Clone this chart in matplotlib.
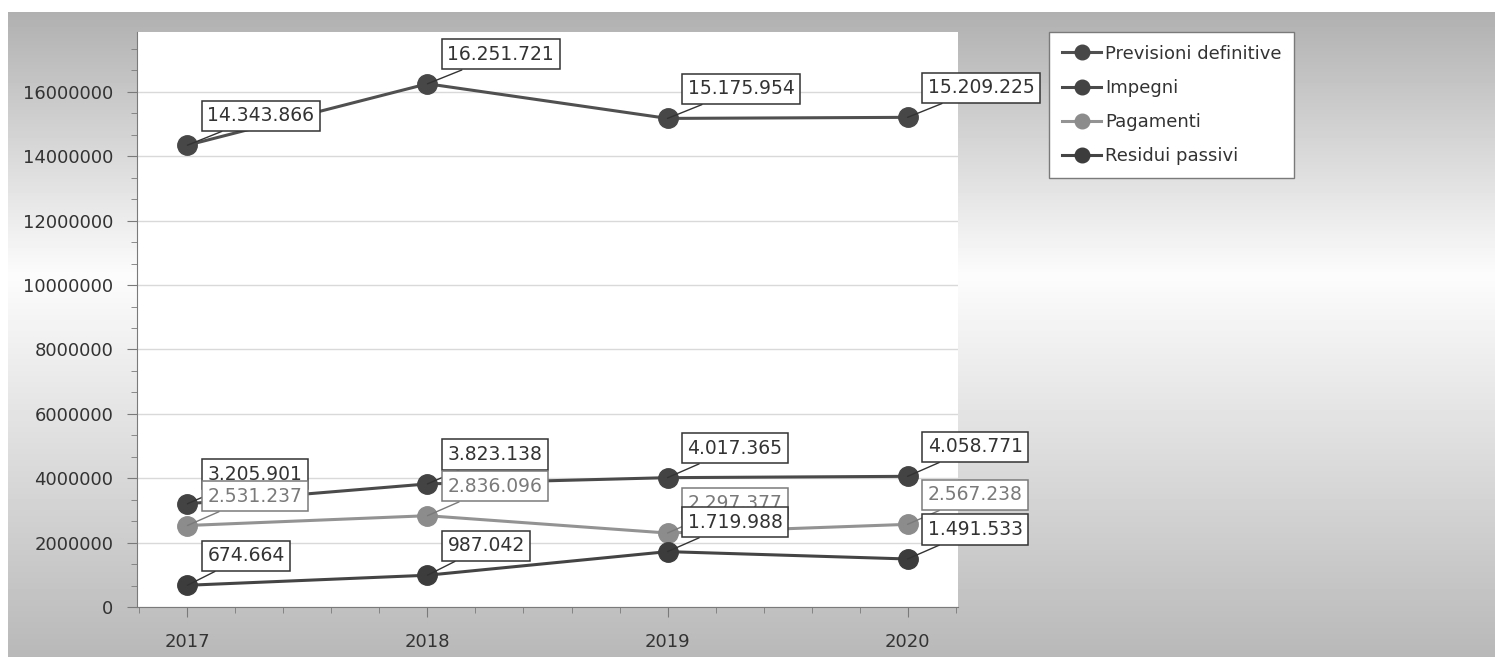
import numpy as np
import matplotlib
matplotlib.use("Agg")
import matplotlib.pyplot as plt
from matplotlib.ticker import MultipleLocator, FixedLocator, FuncFormatter

years = [2017, 2018, 2019, 2020]
previsioni = [14343866, 16251721, 15175954, 15209225]
impegni = [3205901, 3823138, 4017365, 4058771]
pagamenti = [2531237, 2836096, 2297377, 2567238]
residui = [674664, 987042, 1719988, 1491533]

series_names = ["Previsioni definitive", "Impegni", "Pagamenti", "Residui passivi"]
series_values = [previsioni, impegni, pagamenti, residui]
marker_colors = ["#474747", "#434343", "#8c8c8c", "#3c3c3c"]
line_colors = ["#505050", "#4a4a4a", "#939393", "#444444"]
text_colors = ["#333333", "#333333", "#7a7a7a", "#333333"]


def fmt_it(v):
    return f"{v:,}".replace(",", ".")


fig = plt.figure(figsize=(14.95, 6.57), dpi=100)

# background gradient
H, W = 657, 1495
rows = np.arange(H)
shade = np.interp(rows, [0, 11, 12, 275, 657], [255, 255, 176, 252, 184])
bg = np.repeat(shade[:, None], W, axis=1)
bg[:, :8] = 255
bg_ax = fig.add_axes([0, 0, 1, 1], zorder=-10)
bg_ax.imshow(bg, cmap="gray", vmin=0, vmax=255, aspect="auto", interpolation="bilinear")
bg_ax.axis("off")

ax = fig.add_axes([137 / 1495, 1 - 607 / 657, (958 - 137) / 1495, (607 - 32) / 657])
ax.set_facecolor("white")

for name, vals, mc, lc in zip(series_names, series_values, marker_colors, line_colors):
    ax.plot(years, vals, color=lc, lw=2.2, marker="o", markersize=14,
            markerfacecolor=mc, markeredgecolor=mc, label=name, zorder=3)

for vals, tc in zip(series_values, text_colors):
    for x, y in zip(years, vals):
        ax.annotate(fmt_it(y), xy=(x, y), xytext=(20, 20), textcoords="offset pixels",
                    ha="left", va="bottom", fontsize=13.5, color=tc, zorder=5,
                    bbox=dict(boxstyle="square,pad=0.3", fc="white", ec=tc, lw=1.1),
                    arrowprops=dict(arrowstyle="-", color=tc, lw=1, shrinkA=0, shrinkB=0))

ax.set_xlim(2016.79, 2020.21)
ax.set_ylim(0, 17860000)
ax.xaxis.set_major_locator(FixedLocator(years))
ax.xaxis.set_minor_locator(MultipleLocator(0.2))
ax.yaxis.set_major_locator(MultipleLocator(2000000))
ax.yaxis.set_minor_locator(MultipleLocator(2000000 / 3))
ax.set_xticklabels([str(y) for y in years])
ax.yaxis.set_major_formatter(FuncFormatter(lambda v, p: f"{int(round(v))}"))

ax.grid(axis="y", which="major", color="#d9d9d9", lw=1)
ax.set_axisbelow(True)
for s in ["top", "right"]:
    ax.spines[s].set_visible(False)
for s in ["left", "bottom"]:
    ax.spines[s].set_color("#7a7a7a")
ax.tick_params(which="major", length=7, color="#7a7a7a", labelsize=13, labelcolor="#333333")
ax.tick_params(axis="x", which="major", pad=12)
ax.tick_params(axis="y", which="major", pad=10)
ax.tick_params(which="minor", length=4, color="#7a7a7a")

leg = fig.legend(loc="upper left", bbox_to_anchor=(1049 / 1495, 1 - 32 / 657),
                 borderaxespad=0, fontsize=13, frameon=True, fancybox=False,
                 framealpha=1, markerscale=0.75, handlelength=2.2, labelspacing=0.9,
                 borderpad=0.7, handletextpad=0.2)
leg.get_frame().set_edgecolor("#7a7a7a")
leg.get_frame().set_linewidth(1)
for t in leg.get_texts():
    t.set_color("#333333")

fig.savefig("out.png", dpi=100)
